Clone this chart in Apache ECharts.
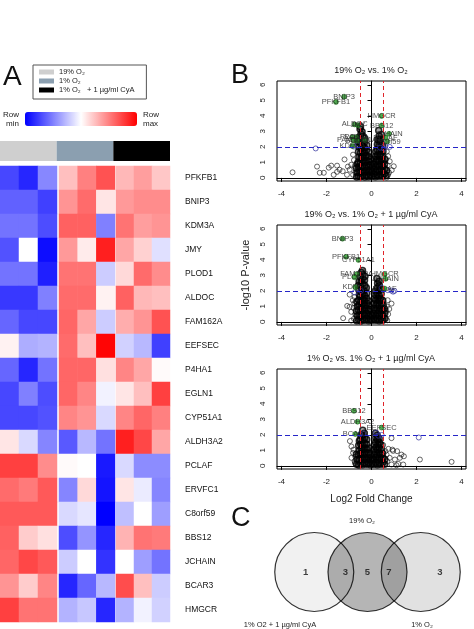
<!DOCTYPE html>
<html><head><meta charset="utf-8">
<script src="https://cdn.jsdelivr.net/npm/echarts@6/dist/echarts.min.js"></script>
<style>html,body{margin:0;padding:0;background:#fff}#c{width:474px;height:629px}</style>
</head><body><div id="c"></div><script>
// ---------------- DATA ----------------
const genes = ['PFKFB1','BNIP3','KDM3A','JMY','PLOD1','ALDOC','FAM162A','EEFSEC','P4HA1','EGLN1','CYP51A1','ALDH3A2','PCLAF','ERVFC1','C8orf59','BBS12','JCHAIN','BCAR3','HMGCR'];
const groups = ['19% O₂','1% O₂','1% O₂   + 1 µg/ml CyA'];
// row-scaled expression, 3 replicates per group
const heat19 = [[-0.72,-0.85,-0.47],[-0.62,-0.62,-0.75],[-0.55,-0.55,-0.7],[-0.68,0.0,-0.95],[-0.55,-0.55,-0.88],[-0.78,-0.78,-0.5],[-0.6,-0.72,-0.72],[0.05,-0.32,-0.3],[-0.6,-0.85,-0.55],[-0.72,-0.5,-0.7],[-0.72,-0.72,-0.68],[0.1,-0.15,-0.48],[0.75,0.75,0.45],[0.58,0.52,0.65],[0.65,0.65,0.65],[0.62,0.2,0.12],[0.6,0.72,0.65],[0.42,0.2,0.48],[0.75,0.55,0.55]];
const heat1 = [[0.25,0.5,0.68],[0.42,0.58,0.1],[0.62,0.62,-0.5],[0.4,0.08,0.88],[0.55,0.55,-0.2],[0.58,0.58,0.05],[0.6,0.35,-0.2],[0.58,0.25,0.98],[0.6,0.6,0.12],[0.6,0.48,-0.05],[0.48,0.42,-0.15],[-0.65,-0.28,-0.55],[0.02,0.0,-0.9],[-0.48,0.15,-0.92],[-0.15,-0.1,-1.0],[-0.7,-0.42,-0.85],[-0.2,0.0,-0.8],[-0.85,-0.6,-0.28],[-0.3,-0.22,-0.85]];
const heatCyA = [[0.28,0.38,0.22],[0.4,0.45,0.45],[0.55,0.38,0.42],[0.35,0.18,-0.12],[0.15,0.58,0.45],[0.62,0.28,0.25],[0.32,0.42,0.68],[-0.18,-0.28,-0.75],[0.48,0.35,0.02],[0.1,0.25,0.75],[0.48,0.6,0.5],[0.88,0.72,0.35],[-0.15,-0.45,-0.45],[0.1,-0.08,-0.48],[-0.25,0.0,-0.38],[0.3,0.55,0.52],[0.0,-0.38,-0.55],[0.7,0.25,-0.2],[-0.3,-0.05,-0.18]];

const xTicks = [-4,-2,0,2,4];
const yTicks = [0,1,2,3,4,5,6];
const fcCut = [-0.5,0.5];
const pCut = 2;
const panelTitles = ['19% O₂ vs. 1% O₂','19% O₂ vs. 1% O₂ + 1 µg/ml CyA','1% O₂ vs. 1% O₂ + 1 µg/ml CyA'];

// Panel 1 : 19% vs 1%
const v1Core = [[-0.66,0.05],[-0.64,0.35],[-0.67,0.62],[-0.63,0.9],
[-0.58,0.12],[-0.56,0.4],[-0.57,0.72],[-0.59,1.02],[-0.56,1.35],[-0.58,1.68],[-0.55,2.0],[-0.57,2.3],[-0.54,2.62],
[-0.49,0.08],[-0.47,0.38],[-0.48,0.66],[-0.5,0.97],[-0.47,1.28],[-0.49,1.6],[-0.46,1.9],[-0.48,2.22],[-0.5,2.52],[-0.47,2.83],[-0.51,3.15],[-0.49,3.3],
[-0.41,0.15],[-0.39,0.45],[-0.4,0.78],[-0.38,1.1],[-0.42,1.4],[-0.4,1.72],[-0.39,2.05],[-0.41,2.35],[-0.38,2.68],[-0.42,2.98],
[-0.3,0.06],[-0.32,0.36],[-0.31,0.68],[-0.29,1.0],[-0.33,1.3],[-0.3,1.62],[-0.31,1.95],[-0.32,2.28],[-0.3,2.55],
[-0.23,0.18],[-0.21,0.5],[-0.22,0.82],[-0.2,1.12],[-0.24,1.45],[-0.22,1.78],[-0.21,2.1],
[-0.14,0.07],[-0.12,0.4],[-0.13,0.72],[-0.11,1.05],[-0.14,1.38],[-0.12,1.65],
[-0.06,0.2],[-0.04,0.52],[-0.05,0.85],[-0.03,1.2],
[0.02,0.1],[0.01,0.42],[0.03,0.7],
[0.09,0.25],[0.11,0.58],[0.1,0.9],[0.12,1.22],
[0.17,0.08],[0.19,0.4],[0.18,0.72],[0.2,1.05],[0.17,1.38],[0.19,1.7],
[0.25,0.2],[0.27,0.52],[0.26,0.85],[0.24,1.18],[0.27,1.5],[0.25,1.82],[0.26,2.15],[0.28,2.48],
[0.33,0.1],[0.35,0.42],[0.34,0.75],[0.32,1.08],[0.36,1.4],[0.34,1.72],[0.33,2.05],[0.35,2.38],[0.34,2.7],[0.32,3.05],
[0.41,0.22],[0.43,0.55],[0.42,0.88],[0.44,1.2],[0.41,1.52],[0.43,1.85],[0.42,2.18],[0.4,2.5],[0.44,2.8],
[0.49,0.1],[0.51,0.42],[0.5,0.75],[0.52,1.08],[0.49,1.4],[0.51,1.72],[0.5,2.05],
[0.57,0.25],[0.59,0.58],[0.58,0.9],[0.6,1.2],
[0.65,0.15],[0.67,0.48]];
const v1Other = [[-3.51,0.36],[-2.42,0.73],[-2.3,0.33],[-2.12,0.33],[-1.9,0.66],[-1.79,0.79],[-1.68,0.2],[-1.53,0.79],[-1.42,0.53],[-1.53,0.39],[-1.28,0.43],[-1.2,1.19],[-1.09,0.2],[-0.97,0.53],[-0.9,0.85],[-0.82,1.5],[-0.82,0.2],[-0.75,0.75],[-0.78,1.15],[-0.72,0.35],[-1.05,0.73],
[0.74,1.4],[0.81,1.07],[0.99,0.75],[0.9,0.5],[0.74,0.2],[0.67,0.02],[0.72,0.8],[0.78,0.35],[0.68,1.7]];
const v1Near = [[-2.48,1.9],[-0.78,2.02],[-0.62,2.1],[0.38,1.95],[0.62,2.05],[0.81,2.0],[0.55,1.9]];
const v1SigNames = ['BNIP3','PFKFB1','ALDOC','JMY','PLOD1','P4HA1','FAM162A','EGLN1','KDM3A','CYP51A1','HMGCR','BBS12','JCHAIN','PCLAF','C8orf59'];
const v1SigPts = [[-1.22,5.24],[-1.58,4.9],[-0.75,3.45],[-0.6,3.4],[-0.85,2.62],[-0.68,2.62],[-0.8,2.42],[-0.62,2.4],[-0.85,2.05],[-0.3,2.45],[0.45,4.0],[0.45,3.38],[0.78,2.84],[0.62,2.6],[0.7,2.35]];

// Panel 2 : 19% vs 1% + CyA
const v2Core = [[-0.66,0.08],[-0.64,0.4],[-0.67,0.7],[-0.63,1.0],[-0.65,1.3],
[-0.57,0.15],[-0.56,0.45],[-0.58,0.78],[-0.55,1.1],[-0.57,1.42],[-0.54,1.75],[-0.56,2.05],[-0.58,2.35],[-0.55,2.6],
[-0.48,0.05],[-0.47,0.36],[-0.49,0.68],[-0.46,1.0],[-0.48,1.32],[-0.5,1.65],[-0.47,1.95],[-0.49,2.28],[-0.46,2.6],[-0.48,2.9],[-0.45,3.18],
[-0.4,0.2],[-0.38,0.52],[-0.41,0.85],[-0.39,1.18],[-0.4,1.5],[-0.38,1.82],[-0.42,2.12],[-0.39,2.45],[-0.41,2.75],[-0.38,3.05],[-0.4,3.32],
[-0.31,0.1],[-0.3,0.42],[-0.32,0.75],[-0.29,1.05],[-0.31,1.38],[-0.3,1.7],[-0.33,2.02],[-0.3,2.35],[-0.31,2.68],[-0.29,2.95],
[-0.22,0.22],[-0.21,0.55],[-0.23,0.88],[-0.2,1.2],[-0.22,1.52],[-0.21,1.85],[-0.23,2.2],
[-0.13,0.08],[-0.12,0.4],[-0.14,0.72],[-0.11,1.05],[-0.13,1.35],
[-0.05,0.18],[-0.04,0.5],[-0.06,0.82],
[0.02,0.1],[0.03,0.4],
[0.1,0.2],[0.09,0.55],[0.11,0.88],[0.1,1.2],[0.12,1.5],
[0.18,0.1],[0.19,0.42],[0.17,0.75],[0.2,1.08],[0.18,1.4],[0.19,1.72],[0.17,2.0],
[0.26,0.22],[0.27,0.55],[0.25,0.88],[0.26,1.2],[0.28,1.52],[0.26,1.85],[0.25,2.18],[0.27,2.5],[0.24,2.8],
[0.34,0.08],[0.35,0.4],[0.33,0.72],[0.34,1.05],[0.36,1.38],[0.34,1.7],[0.33,2.02],[0.35,2.35],[0.34,2.62],
[0.42,0.2],[0.43,0.52],[0.41,0.85],[0.44,1.18],[0.42,1.5],[0.43,1.82],[0.41,2.1],
[0.5,0.1],[0.51,0.42],[0.49,0.75],[0.52,1.08],[0.5,1.38],
[0.58,0.22],[0.59,0.55],[0.57,0.85]];
const v2Other = [[-1.26,0.24],[-1.08,1.03],[-0.97,0.97],[-0.9,0.65],[-0.97,1.76],[-0.83,1.4],[-0.9,0.08],[-0.78,0.2],[-0.8,0.9],[-0.75,1.6],[-0.72,0.5],[-0.76,1.2],
[0.89,1.18],[0.79,0.83],[0.74,0.5],[0.65,0.2],[0.7,0.1],[0.68,1.0],[0.72,1.4],[0.66,0.7]];
const v2Near = [[-0.47,2.0],[-0.75,1.9],[0.96,1.95],[0.88,2.02],[1.02,2.0],[0.72,2.05],[0.45,2.2]];
const v2SigNames = ['BNIP3','PFKFB1','CYP51A1','FAM162A','PLOD1','KDM3A','HMGCR','JCHAIN','PCLAF'];
const v2SigPts = [[-1.29,5.37],[-1.13,4.2],[-0.58,4.0],[-0.66,3.08],[-0.76,2.88],[-0.72,2.24],[0.58,3.08],[0.62,2.78],[0.58,2.15]];

// Panel 3 : 1% vs 1% + CyA
const v3Core = [[-0.66,0.1],[-0.64,0.42],[-0.67,0.75],
[-0.57,0.05],[-0.56,0.38],[-0.58,0.7],[-0.55,1.0],[-0.57,1.32],[-0.54,1.6],
[-0.48,0.15],[-0.47,0.48],[-0.49,0.8],[-0.46,1.1],[-0.48,1.42],[-0.5,1.72],[-0.47,2.0],
[-0.4,0.08],[-0.38,0.4],[-0.41,0.72],[-0.39,1.05],[-0.4,1.35],[-0.38,1.68],[-0.42,1.98],[-0.39,2.3],
[-0.31,0.2],[-0.3,0.52],[-0.32,0.85],[-0.29,1.15],[-0.31,1.48],[-0.3,1.8],[-0.32,2.1],
[-0.22,0.1],[-0.21,0.42],[-0.23,0.75],[-0.2,1.08],[-0.22,1.4],[-0.21,1.7],
[-0.13,0.2],[-0.12,0.52],[-0.14,0.85],[-0.11,1.15],
[-0.05,0.08],[-0.04,0.4],[-0.06,0.7],
[0.02,0.15],[0.03,0.45],
[0.1,0.1],[0.09,0.42],[0.11,0.75],[0.1,1.05],[0.12,1.35],
[0.18,0.22],[0.19,0.55],[0.17,0.88],[0.2,1.2],[0.18,1.52],[0.19,1.82],[0.17,2.1],
[0.26,0.08],[0.27,0.4],[0.25,0.72],[0.26,1.05],[0.28,1.38],[0.26,1.7],[0.25,1.98],
[0.34,0.2],[0.35,0.52],[0.33,0.85],[0.34,1.18],[0.36,1.5],[0.34,1.75],
[0.42,0.1],[0.43,0.42],[0.41,0.75],[0.44,1.05],[0.42,1.35],
[0.5,0.2],[0.51,0.52],[0.49,0.82],
[0.58,0.1],[0.59,0.42]];
const v3Other = [[-0.89,1.25],[-0.96,1.6],[-0.82,0.84],[-0.89,0.52],[-0.75,0.3],[-0.8,1.05],[-0.72,0.6],[-0.74,0.19],
[0.93,1.05],[1.14,0.95],[1.33,0.73],[1.44,0.62],[1.26,0.52],[1.04,0.41],[1.19,0.13],[1.41,0.09],[1.11,0.04],[0.81,0.52],[0.89,0.09],[0.67,0.73],[0.89,1.79],[0.52,1.35],[0.96,0.97],[0.7,0.3],[0.75,1.1],[0.62,0.95],[2.15,0.41],[3.56,0.26]];
const v3Near = [[2.1,1.83],[0.2,2.15],[-0.35,2.1],[-0.5,2.05],[0.3,1.95],[0.45,2.0]];
const v3SigNames = ['BBS12','ALDH3A2','BCAR3','EEFSEC'];
const v3SigPts = [[-0.78,3.55],[-0.62,2.85],[-0.72,2.06],[0.45,2.47]];

// Venn
const vennSets = ['1% O2 + 1 µg/ml CyA','19% O₂','1% O₂'];
const vennCounts = [1,3,5,7,3];

// ---------------- LAYOUT / STYLE ----------------
const FONT = "'Liberation Sans', Arial, sans-serif";
const groupColors = ['#cfcfcf','#8b9fb0','#000000'];
const heatGrids = [{left:0,width:57},{left:59,width:56},{left:116,width:54}];
const volTops = [81,225,369];
const vennPos = [0,1,2];
const vennCountPos = [-0.16,0.585,1.0,1.4,2.36];
const vennFill = ['rgba(0,0,0,0.07)','rgba(0,0,0,0.36)','rgba(0,0,0,0.15)'];

const grid = [], xAxis = [], yAxis = [], series = [];
const heats = [heat19, heat1, heatCyA];
heats.forEach((h, g) => {
  grid.push({left: heatGrids[g].left, width: heatGrids[g].width, top: 166, height: 456});
  xAxis.push({type:'category', gridIndex:g, data:['r1','r2','r3'], show:false});
  const ya = {type:'category', gridIndex:g, data:genes, inverse:true, show:false};
  if (g === 2) {
    Object.assign(ya, {show:true, position:'right', axisLine:{show:false}, axisTick:{show:false},
      axisLabel:{margin:15, fontSize:8.5, color:'#111', fontFamily:FONT}});
  }
  yAxis.push(ya);
  const data = [];
  genes.forEach((gn, r) => h[r].forEach((v, c) => data.push([c, r, v])));
  series.push({type:'heatmap', xAxisIndex:g, yAxisIndex:g, data, itemStyle:{borderWidth:0}, emphasis:{disabled:true}});
});
// annotation bar (grid 3)
grid.push({left:0, top:141, width:170, height:20});
xAxis.push({type:'category', gridIndex:3, data:groups, show:false});
yAxis.push({type:'value', gridIndex:3, min:0, max:1, show:false});
groups.forEach((gname, i) => {
  series.push({type:'bar', name:gname, xAxisIndex:3, yAxisIndex:3, stack:'grp', barWidth:'100%',
    data: groups.map((_, j) => j === i ? 1 : 0), itemStyle:{color:groupColors[i]}, silent:true});
});
// volcano panels (grids 4-6)
const panels = [
  {core:v1Core, other:v1Other, near:v1Near, names:v1SigNames, pts:v1SigPts},
  {core:v2Core, other:v2Other, near:v2Near, names:v2SigNames, pts:v2SigPts},
  {core:v3Core, other:v3Other, near:v3Near, names:v3SigNames, pts:v3SigPts}
];
panels.forEach((p, k) => {
  const gi = 4 + k;
  grid.push({left:277, top:volTops[k], width:189, height:100, show:true, borderColor:'#000', borderWidth:1, backgroundColor:'transparent'});
  const xa = {type:'value', gridIndex:gi, min:-4.2, max:4.2, offset:4, splitLine:{show:false},
    axisLine:{show:true, lineStyle:{color:'#000', width:1}},
    axisTick:{show:true, length:4, customValues:xTicks, lineStyle:{color:'#000'}},
    axisLabel:{customValues:xTicks, fontSize:8, color:'#222', margin:5, fontFamily:FONT}};
  if (k === 2) Object.assign(xa, {name:'Log2 Fold Change', nameLocation:'middle', nameGap:21, nameTextStyle:{fontSize:10, color:'#222', fontFamily:FONT}});
  xAxis.push(xa);
  const ya = {type:'value', gridIndex:gi, min:-0.2, max:6.25, offset:4, splitLine:{show:false},
    axisLine:{show:true, lineStyle:{color:'#000', width:1}},
    axisTick:{show:true, length:4, customValues:yTicks, lineStyle:{color:'#000'}},
    axisLabel:{customValues:yTicks, fontSize:8, color:'#222', margin:6, rotate:90, fontFamily:FONT}};
  if (k === 1) Object.assign(ya, {name:'-log10 P-value', nameLocation:'middle', nameRotate:90, nameGap:22, nameTextStyle:{fontSize:11, color:'#222', fontFamily:FONT}});
  yAxis.push(ya);
  const open = (c, w) => ({color:'rgba(0,0,0,0)', borderColor:c, borderWidth:w});
  series.push({type:'scatter', xAxisIndex:gi, yAxisIndex:gi, data:p.other, symbolSize:5,
    itemStyle:open('#111', 0.8), silent:true, z:2});
  series.push({type:'scatter', xAxisIndex:gi, yAxisIndex:gi, data:p.core, symbolSize:6,
    itemStyle:{color:'rgba(0,0,0,0.45)', borderColor:'#000', borderWidth:1.5}, silent:true, z:2,
    markLine:{silent:true, symbol:['none','none'], label:{show:false}, z:5,
      data:[
        {xAxis:fcCut[0], lineStyle:{color:'#e0242a', type:[4,3], width:1}},
        {xAxis:fcCut[1], lineStyle:{color:'#e0242a', type:[4,3], width:1}},
        {yAxis:pCut, lineStyle:{color:'#2626c8', type:[5,3], width:1}}
      ]}});
  series.push({type:'scatter', xAxisIndex:gi, yAxisIndex:gi, data:p.near, symbolSize:5,
    itemStyle:open('#2f2f9a', 0.9), silent:true, z:3});
  series.push({type:'scatter', xAxisIndex:gi, yAxisIndex:gi, symbolSize:5, silent:true, z:4,
    data:p.names.map((n, i) => ({name:n, value:p.pts[i]})),
    itemStyle:{color:'#249a24', borderColor:'#0e500e', borderWidth:0.6},
    label:{show:true, position:'inside', formatter:'{b}', fontSize:7.5, color:'#222', fontFamily:FONT}});
});
// Venn (grid 7)
grid.push({left:261, top:532, width:216, height:80});
xAxis.push({type:'value', gridIndex:7, min:-1, max:3, show:false});
yAxis.push({type:'value', gridIndex:7, min:-1, max:1, show:false});
series.push({type:'scatter', xAxisIndex:7, yAxisIndex:7, symbolSize:79, silent:true, z:2,
  data: vennSets.map((s, i) => ({name:s, value:[vennPos[i], 0], itemStyle:{color:vennFill[i]}})),
  itemStyle:{borderColor:'#000', borderWidth:1.2}});
series.push({type:'scatter', xAxisIndex:7, yAxisIndex:7, symbolSize:1, silent:true, z:3,
  data: vennCounts.map((c, i) => ({value:[vennCountPos[i], 0, c]})),
  itemStyle:{color:'rgba(0,0,0,0)'},
  label:{show:true, position:'inside', formatter:p => String(p.value[2]), fontSize:9.5, fontWeight:'bold', color:'#111', fontFamily:FONT}});

const option = {
  animation:false,
  textStyle:{fontFamily:FONT},
  title:[
    {text:'A', left:3, top:63, padding:0, textStyle:{fontSize:28, fontWeight:'normal', color:'#111', fontFamily:FONT}},
    {text:'B', left:231, top:62, padding:0, textStyle:{fontSize:27, fontWeight:'normal', color:'#111', fontFamily:FONT}},
    {text:'C', left:231, top:505, padding:0, textStyle:{fontSize:27, fontWeight:'normal', color:'#111', fontFamily:FONT}},
    ...panelTitles.map((t, k) => ({text:t, left:371, top:volTops[k] - 15, textAlign:'center', padding:0,
      textStyle:{fontSize:9, fontWeight:'normal', color:'#222', fontFamily:FONT}}))
  ],
  legend:{left:33, top:65, orient:'vertical', data:groups, selectedMode:false, icon:'rect',
    itemWidth:15, itemHeight:5, itemGap:1, padding:[3,12,5,6], borderColor:'#555', borderWidth:1,
    textStyle:{fontSize:7.5, color:'#222', lineHeight:8, fontFamily:FONT}},
  visualMap:{type:'continuous', min:-1, max:1, seriesIndex:[0,1,2], orient:'horizontal', left:3, top:110, padding:0,
    itemWidth:14, itemHeight:112, text:['Row\nmax','Row\nmin'], textGap:6, calculable:false,
    textStyle:{fontSize:8, color:'#222', lineHeight:9, fontFamily:FONT},
    inRange:{color:['#0000ff','#ffffff','#ff0000']}},
  graphic:[
    {type:'text', x:362, y:521, style:{text:'19% O₂', fontSize:7.5, fill:'#222', textAlign:'center', textVerticalAlign:'middle', fontFamily:FONT}},
    {type:'text', x:280, y:625, style:{text:vennSets[0], fontSize:7.5, fill:'#222', textAlign:'center', textVerticalAlign:'middle', fontFamily:FONT}},
    {type:'text', x:422, y:625, style:{text:'1% O₂', fontSize:7.5, fill:'#222', textAlign:'center', textVerticalAlign:'middle', fontFamily:FONT}}
  ],
  grid, xAxis, yAxis, series
};
const chart = echarts.init(document.getElementById('c'), null, {renderer:'canvas'});
chart.setOption(option);
</script></body></html>
